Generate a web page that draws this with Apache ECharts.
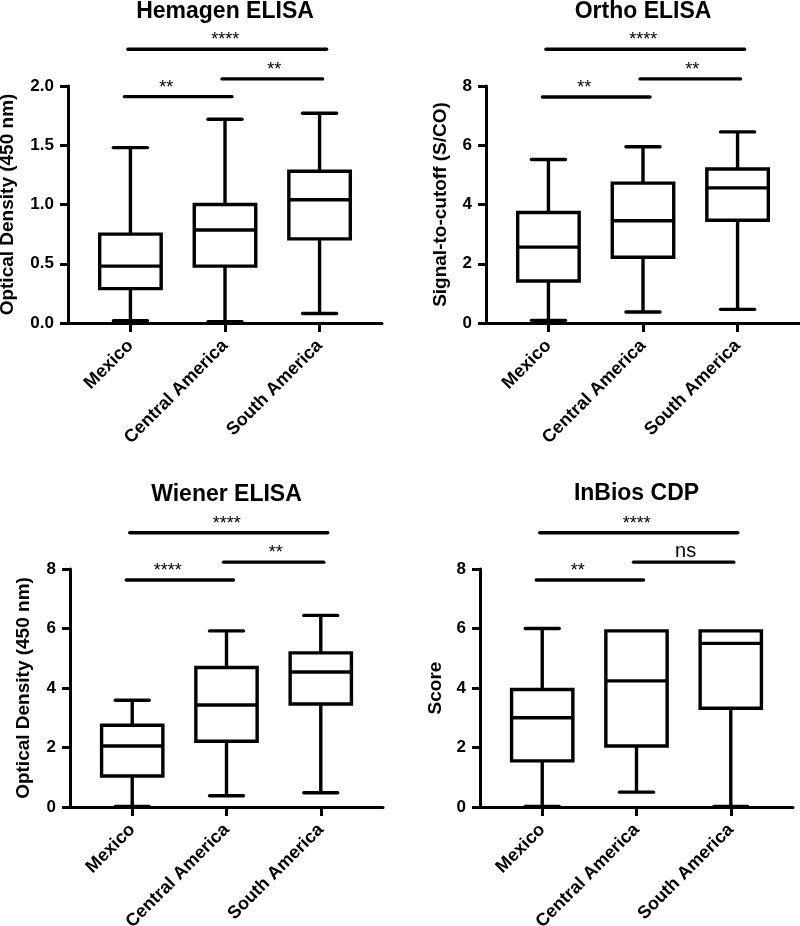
<!DOCTYPE html>
<html>
<head>
<meta charset="utf-8">
<script src="https://cdn.jsdelivr.net/npm/echarts@6/dist/echarts.min.js"></script>
<style>
html,body{margin:0;padding:0;background:#fff;}
#chart{width:800px;height:926px;}
</style>
</head>
<body>
<div id="chart"></div>
<script>
// ---------- DATA ----------
const categories = ['Mexico', 'Central America', 'South America'];

// each row: [min, Q1, median, Q3, max]
const hemagenBoxes = [[0.02, 0.29, 0.48, 0.75, 1.48], [0.01, 0.48, 0.785, 1.00, 1.72], [0.08, 0.71, 1.04, 1.28, 1.77]];
const orthoBoxes   = [[0.09, 1.42, 2.56, 3.73, 5.52], [0.37, 2.22, 3.45, 4.72, 5.95], [0.46, 3.47, 4.56, 5.20, 6.45]];
const wienerBoxes  = [[0.02, 1.04, 2.05, 2.75, 3.59], [0.38, 2.21, 3.43, 4.69, 5.92], [0.48, 3.46, 4.54, 5.18, 6.44]];
const inbiosBoxes  = [[0.02, 1.55, 3.00, 3.95, 6.00], [0.50, 2.05, 4.24, 5.92, 5.92], [0.02, 3.32, 5.50, 5.92, 5.92]];

// significance comparisons (pairs of category indices)
const sigPairs = [[0, 2], [0, 1], [1, 2]];
const hemagenSigLabels = ['****', '**', '**'];
const orthoSigLabels   = ['****', '**', '**'];
const wienerSigLabels  = ['****', '****', '**'];
const inbiosSigLabels  = ['****', '**', 'ns'];
const hemagenSigLevels = [2.31, 1.91, 2.06];
const orthoSigLevels   = [9.24, 7.63, 8.24];
const wienerSigLevels  = [9.22, 7.63, 8.23];
const inbiosSigLevels  = [9.22, 7.63, 8.23];

// y tick labels
const hemagenTicks = ['0.0', '0.5', '1.0', '1.5', '2.0'];
const orthoTicks   = ['0', '2', '4', '6', '8'];
const wienerTicks  = ['0', '2', '4', '6', '8'];
const inbiosTicks  = ['0', '2', '4', '6', '8'];

const titles = ['Hemagen ELISA', 'Ortho ELISA', 'Wiener ELISA', 'InBios CDP'];
const yNames = ['Optical Density (450 nm)', 'Signal-to-cutoff (S/CO)', 'Optical Density (450 nm)', 'Score'];

// ---------- STYLE / LAYOUT ----------
const FONT = "'Liberation Sans', Arial, Helvetica, sans-serif";
const INK = '#000';
const LW = 3.4;
const BOX_W = 0.65;   // category units
const CAP_W = 0.36;
const SIG_PAD = [[-2.5, 7], [-6, 7], [-3, 3]];     // px pads for each comparison bar
const SIG_LABEL_DX = [-2, -12, 2];                  // px shift of label
const grids = [
  {left: 68, top: 86, width: 314, height: 237},
  {left: 486, top: 86, width: 314, height: 237},
  {left: 70, top: 569, width: 313, height: 238},
  {left: 480, top: 569, width: 313, height: 238}
];
const nameGaps = [51, 36, 37, 35];
const titleY = [12, 12, 495, 494];

const panels = [
  {boxes: hemagenBoxes, sig: hemagenSigLabels, lev: hemagenSigLevels, ticks: hemagenTicks},
  {boxes: orthoBoxes, sig: orthoSigLabels, lev: orthoSigLevels, ticks: orthoTicks},
  {boxes: wienerBoxes, sig: wienerSigLabels, lev: wienerSigLevels, ticks: wienerTicks},
  {boxes: inbiosBoxes, sig: inbiosSigLabels, lev: inbiosSigLevels, ticks: inbiosTicks}
];

function renderBox(params, api) {
  const x = api.value(0);
  const mn = api.value(1), q1 = api.value(2), md = api.value(3), q3 = api.value(4), mx = api.value(5);
  const half = api.size([BOX_W, 0])[0] / 2;
  const capHalf = api.size([CAP_W, 0])[0] / 2;
  const pMin = api.coord([x, mn]), pQ1 = api.coord([x, q1]), pMd = api.coord([x, md]),
        pQ3 = api.coord([x, q3]), pMax = api.coord([x, mx]);
  const cx = pMin[0];
  const st = {stroke: INK, lineWidth: LW, fill: null};
  const children = [];
  if (mx > q3) {
    children.push({type: 'line', shape: {x1: cx, y1: pQ3[1], x2: cx, y2: pMax[1]}, style: st});
    children.push({type: 'line', shape: {x1: cx - capHalf, y1: pMax[1], x2: cx + capHalf, y2: pMax[1]}, style: Object.assign({lineCap: 'round'}, st)});
  }
  if (mn < q1) {
    children.push({type: 'line', shape: {x1: cx, y1: pQ1[1], x2: cx, y2: pMin[1]}, style: st});
    children.push({type: 'line', shape: {x1: cx - capHalf, y1: pMin[1], x2: cx + capHalf, y2: pMin[1]}, style: Object.assign({lineCap: 'round'}, st)});
  }
  children.push({type: 'rect', shape: {x: cx - half, y: pQ3[1], width: 2 * half, height: pQ1[1] - pQ3[1]},
    style: {stroke: INK, lineWidth: LW, fill: '#fff'}});
  children.push({type: 'line', shape: {x1: cx - half, y1: pMd[1], x2: cx + half, y2: pMd[1]}, style: st});
  return {type: 'group', children: children};
}

function renderSig(params, api) {
  const a = api.value(0), b = api.value(1), lv = api.value(2), k = api.value(3);
  const labels = panels[params.seriesIndex / 2 | 0].sig;
  const p1 = api.coord([a, lv]), p2 = api.coord([b, lv]);
  const pad = SIG_PAD[k];
  const x1 = p1[0] + pad[0], x2 = p2[0] + pad[1];
  const txt = labels[k];
  const isNs = txt === 'ns';
  return {type: 'group', children: [
    {type: 'line', shape: {x1: x1, y1: p1[1], x2: x2, y2: p1[1]}, style: {stroke: INK, lineWidth: LW, lineCap: 'round'}},
    {type: 'text', x: (x1 + x2) / 2 + SIG_LABEL_DX[k], y: p1[1] - (isNs ? 11 : 9),
      style: {text: txt, fill: INK, font: (isNs ? '20px ' : '18px ') + FONT, textAlign: 'center', textVerticalAlign: 'middle'}}
  ]};
}

const option = {
  animation: false,
  backgroundColor: '#fff',
  grid: grids.map(g => Object.assign({containLabel: false, outerBoundsMode: 'none'}, g)),
  xAxis: grids.map((g, i) => ({
    type: 'value', gridIndex: i, min: -0.66, max: 2.66,
    splitLine: {show: false},
    axisLine: {show: true, onZero: false, lineStyle: {color: INK, width: 3}},
    axisTick: {show: true, customValues: [0, 1, 2], length: 9, lineStyle: {color: INK, width: 3}},
    axisLabel: {show: true, customValues: [0, 1, 2], rotate: 45, margin: 20,
      formatter: v => categories[Math.round(v)],
      color: INK, fontFamily: FONT, fontWeight: 'bold', fontSize: 18}
  })),
  yAxis: grids.map((g, i) => {
    const t = panels[i].ticks;
    const mn = parseFloat(t[0]), mx = parseFloat(t[t.length - 1]);
    const step = parseFloat(t[1]) - mn;
    return {
      type: 'value', gridIndex: i, min: mn, max: mx, interval: step,
      name: yNames[i], nameLocation: 'middle', nameGap: nameGaps[i], nameRotate: 90,
      nameTextStyle: {color: INK, fontFamily: FONT, fontWeight: 'bold', fontSize: 19},
      splitLine: {show: false},
      axisLine: {show: true, onZero: false, lineStyle: {color: INK, width: 3}},
      axisTick: {show: true, length: 8, lineStyle: {color: INK, width: 3}},
      axisLabel: {margin: 14, color: INK, fontFamily: FONT, fontWeight: 'bold', fontSize: 17,
        formatter: v => t[Math.round((v - mn) / step)]}
    };
  }),
  graphic: titles.map((tt, i) => ({
    type: 'text', x: grids[i].left + grids[i].width / 2, y: titleY[i],
    style: {text: tt, fill: INK, font: 'bold 23px ' + FONT, textAlign: 'center', textVerticalAlign: 'middle'}
  })),
  series: []
};

panels.forEach((p, i) => {
  option.series.push({
    type: 'custom', xAxisIndex: i, yAxisIndex: i, clip: false,
    renderItem: renderBox,
    encode: {x: 0, y: [1, 2, 3, 4, 5]},
    data: p.boxes.map((b, j) => [j].concat(b))
  });
  option.series.push({
    type: 'custom', xAxisIndex: i, yAxisIndex: i, clip: false,
    renderItem: renderSig,
    encode: {x: [0, 1], y: 2},
    data: sigPairs.map((pr, k) => [pr[0], pr[1], p.lev[k], k])
  });
});

const chart = echarts.init(document.getElementById('chart'), null, {renderer: 'canvas'});
chart.setOption(option);
</script>
</body>
</html>
